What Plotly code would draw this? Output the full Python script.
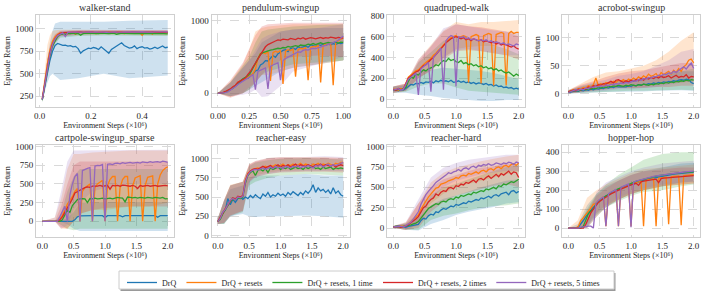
import numpy as np
import plotly.graph_objects as go

# ---------------- data ----------------
series_names = ["DrQ", "DrQ + resets", "DrQ + resets, 1 time",
                "DrQ + resets, 2 times", "DrQ + resets, 5 times"]
panel_titles = ["walker-stand", "pendulum-swingup", "quadruped-walk", "acrobot-swingup",
                "cartpole-swingup_sparse", "reacher-easy", "reacher-hard", "hopper-hop"]

walker_x = [round(0.01 * (i + 1), 2) for i in range(50)]
pend_x = [round(0.02 * i, 2) for i in range(51)]
long_x = [round(0.04 * i, 2) for i in range(51)]

# walker-stand
walker_drq = [210, 370, 520, 650, 750, 815, 838, 825, 815, 818,
              808, 812, 800, 805, 780, 728, 755, 770, 785, 780,
              792, 785, 770, 800, 775, 760, 728, 770, 790, 812,
              835, 845, 815, 800, 785, 790, 810, 780, 795, 800,
              785, 790, 775, 782, 795, 780, 800, 810, 790, 795]
walker_resets = [220, 430, 610, 760, 860, 910, 940, 955, 958, 925,
                 950, 960, 962, 940, 963, 965, 960, 966, 962, 965,
                 966, 945, 964, 966, 965, 950, 966, 967, 965, 966,
                 962, 966, 945, 965, 966, 960, 966, 965, 962, 928,
                 960, 965, 966, 940, 964, 965, 966, 962, 958, 955]
walker_1 = [205, 390, 560, 710, 810, 870, 915, 935, 945, 940,
            950, 948, 952, 945, 950, 930, 948, 952, 950, 947,
            953, 950, 948, 952, 949, 951, 946, 950, 953, 940,
            949, 952, 950, 948, 953, 950, 947, 951, 950, 948,
            952, 949, 950, 947, 951, 948, 950, 946, 948, 945]
walker_2 = [215, 400, 580, 730, 830, 890, 930, 950, 958, 960,
            962, 958, 963, 960, 962, 965, 961, 964, 962, 966,
            963, 960, 965, 962, 964, 961, 966, 963, 960, 964,
            962, 965, 961, 964, 962, 966, 963, 961, 965, 962,
            964, 961, 963, 965, 962, 964, 961, 963, 962, 960]
walker_5 = [210, 395, 570, 720, 825, 885, 925, 945, 955, 915,
            960, 963, 962, 965, 961, 964, 966, 963, 965, 962,
            966, 964, 963, 967, 965, 962, 966, 964, 967, 965,
            963, 966, 964, 967, 965, 966, 963, 967, 965, 966,
            964, 967, 965, 963, 966, 968, 965, 967, 966, 965]
walker_band_x = [0.01, 0.02, 0.03, 0.04, 0.05, 0.06, 0.08, 0.15, 0.25, 0.35, 0.5]
walker_drq_lo = [180, 300, 400, 470, 500, 480, 430, 450, 500, 450, 480]
walker_drq_hi = [240, 450, 650, 850, 980, 1060, 1080, 1080, 1080, 1090, 1100]
walker_resets_lo = [190, 330, 470, 620, 760, 850, 920, 930, 935, 935, 930]
walker_resets_hi = [250, 560, 820, 930, 975, 985, 990, 990, 990, 990, 985]
walker_1_lo = [180, 320, 480, 640, 760, 830, 900, 920, 925, 925, 920]
walker_1_hi = [230, 460, 650, 790, 870, 920, 965, 975, 975, 975, 970]
walker_2_lo = [190, 340, 500, 660, 780, 850, 920, 940, 945, 945, 940]
walker_2_hi = [240, 470, 670, 810, 890, 940, 975, 985, 985, 985, 985]
walker_5_lo = [185, 335, 490, 650, 770, 840, 910, 935, 945, 945, 945]
walker_5_hi = [235, 465, 660, 800, 880, 930, 975, 985, 985, 985, 985]

# pendulum-swingup
pend_drq = [0, 0, 5, 12, 25, 48, 68, 100, 125, 155,
            175, 210, 205, 250, 265, 310, 320, 390, 410, 450,
            445, 490, 520, 495, 545, 565, 590, 600, 575, 615,
            625, 605, 640, 630, 645, 650, 635, 665, 655, 645,
            670, 660, 675, 660, 680, 665, 685, 670, 690, 685,
            695]
pend_resets = [0, 0, 5, 15, 30, 45, 80, 105, 150, 165,
               190, 205, 225, 250, 270, 330, 480, 550, 560, 545,
               575, 170, 560, 580, 565, 590, 130, 580, 600, 590,
               610, 230, 600, 620, 610, 630, 180, 630, 645, 640,
               660, 150, 660, 680, 670, 690, 110, 700, 720, 745,
               765]
pend_1 = [0, 0, 5, 15, 30, 50, 70, 100, 140, 170,
          200, 215, 240, 280, 340, 420, 480, 540, 560, 575,
          580, 595, 600, 615, 620, 615, 630, 625, 645, 635,
          640, 655, 645, 665, 660, 660, 675, 670, 685, 670,
          685, 695, 680, 690, 700, 690, 695, 705, 690, 705,
          700]
pend_2 = [0, 2, 10, 25, 40, 60, 90, 110, 150, 170,
          195, 210, 260, 300, 360, 420, 470, 520, 590, 640,
          670, 690, 700, 720, 735, 730, 745, 740, 735, 755,
          745, 740, 760, 750, 765, 745, 755, 765, 760, 750,
          760, 770, 755, 765, 760, 772, 765, 758, 770, 765,
          760]
pend_5 = [0, 0, 5, 10, 20, 40, 60, 90, 120, 140,
          160, 180, 200, 230, 260, 50, 300, 320, 340, 350,
          60, 370, 390, 400, 420, 180, 450, 480, 500, 520,
          540, 550, 570, 565, 590, 600, 595, 610, 620, 615,
          630, 640, 650, 660, 670, 680, 700, 710, 730, 760,
          790]
pend_band_x = [0, 0.1, 0.2, 0.25, 0.3, 0.35, 0.4, 0.5, 0.6, 0.8, 1.0]
pend_drq_lo = [0, -40, 0, 50, 100, 150, 200, 300, 350, 400, 450]
pend_drq_hi = [0, 150, 350, 450, 550, 700, 750, 850, 880, 900, 900]
pend_resets_lo = [0, -50, 0, 50, 150, 250, 250, 300, 350, 400, 450]
pend_resets_hi = [0, 160, 400, 600, 850, 900, 920, 930, 950, 950, 950]
pend_1_lo = [0, -40, 0, 50, 150, 250, 300, 350, 400, 420, 450]
pend_1_hi = [0, 150, 380, 500, 700, 850, 880, 900, 920, 940, 950]
pend_2_lo = [0, -60, 0, 80, 150, 250, 350, 450, 500, 520, 500]
pend_2_hi = [0, 180, 420, 600, 800, 920, 950, 960, 970, 970, 970]
pend_5_lo = [0, -40, -20, 0, 50, -50, -40, 100, 300, 400, 500]
pend_5_hi = [0, 140, 350, 450, 600, 750, 800, 850, 880, 900, 950]

# quadruped-walk
quad_drq = [85, 90, 80, 95, 85, 100, 120, 140, 135, 150,
            145, 160, 150, 165, 160, 170, 155, 175, 165, 180,
            170, 175, 165, 180, 160, 165, 175, 160, 170, 155,
            165, 150, 160, 145, 155, 150, 140, 150, 135, 140,
            125, 135, 120, 125, 110, 115, 105, 110, 95, 105,
            95]
quad_resets = [90, 95, 85, 100, 90, 160, 210, 230, 250, 270,
               280, 310, 330, 350, 370, 390, 420, 440, 470, 490,
               520, 550, 570, 590, 600, 610, 590, 600, 610, 600,
               160, 600, 610, 620, 610, 150, 610, 620, 630, 620,
               130, 620, 630, 640, 630, 130, 630, 650, 630, 640,
               640]
quad_1 = [90, 85, 95, 85, 100, 110, 170, 210, 200, 240,
          230, 260, 280, 270, 290, 300, 310, 330, 320, 350,
          370, 360, 390, 370, 380, 360, 350, 370, 340, 350,
          330, 340, 320, 330, 310, 320, 300, 310, 290, 300,
          280, 290, 270, 280, 260, 250, 260, 240, 220, 240,
          225]
quad_2 = [95, 85, 100, 90, 95, 150, 200, 220, 240, 260,
          270, 300, 320, 330, 360, 380, 400, 430, 460, 480,
          510, 540, 560, 580, 590, 600, 590, 580, 590, 570,
          580, 560, 580, 570, 560, 570, 550, 560, 550, 540,
          550, 530, 540, 520, 530, 520, 510, 500, 510, 490,
          480]
quad_5 = [85, 90, 100, 85, 95, 140, 190, 210, 230, 250,
          40, 290, 310, 330, 350, 70, 400, 430, 460, 490,
          90, 560, 590, 610, 600, 120, 600, 590, 600, 580,
          590, 570, 580, 570, 560, 570, 560, 570, 550, 560,
          540, 550, 540, 530, 540, 520, 530, 520, 510, 530,
          520]
quad_band_x = [0, 0.2, 0.4, 0.6, 0.8, 1.0, 1.2, 1.4, 1.6, 1.8, 2.0]
quad_drq_lo = [60, 60, 40, 30, 10, 0, -10, -20, -20, -10, -10]
quad_drq_hi = [120, 130, 260, 280, 300, 290, 280, 270, 250, 220, 190]
quad_resets_lo = [60, 80, 200, 280, 400, 480, 500, 510, 510, 520, 520]
quad_resets_hi = [120, 150, 380, 520, 660, 740, 720, 740, 740, 750, 760]
quad_1_lo = [60, 70, 120, 150, 150, 110, 80, 70, 60, 50, 40]
quad_1_hi = [120, 140, 350, 450, 560, 590, 580, 560, 520, 480, 430]
quad_2_lo = [60, 80, 200, 270, 380, 460, 470, 460, 440, 420, 380]
quad_2_hi = [120, 150, 360, 500, 650, 720, 700, 690, 670, 650, 600]
quad_5_lo = [60, 80, 200, 280, 400, 470, 480, 460, 440, 420, 420]
quad_5_hi = [120, 150, 380, 510, 680, 720, 700, 680, 660, 650, 640]

# acrobot-swingup
acro_drq = [2, 3, 4, 5, 4, 6, 5, 7, 6, 8,
            7, 9, 8, 10, 9, 11, 10, 12, 11, 13,
            12, 12, 13, 12, 14, 13, 15, 14, 16, 15,
            17, 16, 18, 17, 19, 18, 20, 19, 21, 20,
            22, 21, 23, 22, 24, 25, 24, 26, 25, 20,
            18]
acro_resets = [3, 5, 7, 6, 9, 8, 11, 10, 14, 12,
               16, 28, 14, 18, 15, 20, 19, 17, 22, 20,
               24, 22, 25, 21, 26, 24, 28, 25, 30, 27,
               32, 29, 35, 31, 33, 36, 30, 38, 34, 37,
               40, 35, 42, 38, 45, 40, 48, 52, 60, 62,
               55]
acro_1 = [3, 4, 5, 6, 5, 7, 8, 7, 9, 8,
          10, 9, 11, 10, 12, 11, 13, 12, 14, 13,
          15, 14, 13, 15, 14, 16, 15, 14, 16, 15,
          17, 16, 15, 17, 16, 18, 17, 19, 18, 20,
          19, 21, 20, 22, 21, 23, 22, 24, 23, 25,
          24]
acro_2 = [3, 4, 6, 5, 8, 7, 9, 8, 12, 10,
          14, 13, 16, 15, 18, 17, 20, 22, 19, 24,
          25, 22, 20, 23, 21, 24, 22, 25, 23, 27,
          24, 28, 26, 29, 27, 30, 28, 31, 29, 30,
          32, 28, 30, 33, 29, 31, 30, 34, 28, 31,
          30]
acro_5 = [2, 4, 5, 7, 6, 8, 7, 10, 9, 12,
          11, 13, 12, 14, 13, 15, 14, 17, 16, 18,
          17, 19, 18, 20, 19, 21, 23, 22, 25, 24,
          27, 26, 29, 28, 31, 30, 33, 32, 35, 34,
          37, 36, 40, 38, 42, 45, 48, 44, 50, 55,
          45]
acro_band_x = [0, 0.2, 0.4, 0.6, 0.8, 1.0, 1.2, 1.4, 1.6, 1.8, 2.0]
acro_drq_lo = [0, 1, 2, 3, 3, 4, 4, 5, 6, 6, 5]
acro_drq_hi = [5, 12, 16, 20, 22, 24, 28, 32, 36, 40, 40]
acro_resets_lo = [0, 3, 5, 8, 10, 10, 12, 15, 18, 20, 22]
acro_resets_hi = [6, 18, 30, 38, 40, 45, 50, 60, 75, 95, 110]
acro_1_lo = [0, 2, 3, 4, 4, 5, 5, 5, 6, 7, 6]
acro_1_hi = [6, 13, 18, 20, 24, 26, 28, 30, 38, 40, 45]
acro_2_lo = [0, 3, 5, 8, 10, 10, 10, 12, 12, 14, 14]
acro_2_hi = [6, 16, 22, 30, 36, 40, 42, 46, 50, 55, 55]
acro_5_lo = [0, 2, 4, 5, 8, 8, 10, 12, 16, 20, 22]
acro_5_hi = [6, 14, 20, 25, 32, 35, 40, 50, 60, 75, 80]

# cartpole-swingup_sparse
cart_drq = [0, 0, 0, 0, 0, 0, 0, 0, 0, 0,
            0, 0, 0, 20, 60, 72, 75, 74, 76, 75,
            77, 75, 74, 76, 75, 50, 76, 75, 77, 76,
            74, 75, 60, 76, 75, 77, 75, 76, 74, 75,
            76, 75, 77, 74, 75, 76, 55, 75, 76, 75,
            75]
cart_resets = [0, 0, 0, 0, 0, 0, 0, 30, 80, 150,
               230, 280, 330, 400, 440, 0, 400, 450, 480, 500,
               0, 450, 500, 520, 550, 0, 480, 560, 600, 600,
               0, 450, 560, 600, 600, 0, 470, 580, 600, 610,
               0, 480, 590, 600, 610, 0, 500, 620, 680, 710,
               730]
cart_1 = [0, 0, 0, 0, 0, 0, 0, 0, 20, 80,
          150, 120, 210, 250, 290, 300, 305, 300, 250, 305,
          300, 310, 300, 305, 310, 300, 305, 310, 300, 315,
          320, 315, 310, 260, 325, 320, 315, 320, 310, 320,
          315, 310, 320, 315, 310, 320, 315, 310, 320, 300,
          305]
cart_2 = [0, 0, 0, 0, 0, 0, 0, 20, 60, 120,
          180, 230, 300, 380, 400, 420, 440, 450, 460, 455,
          470, 465, 470, 480, 470, 475, 480, 430, 480, 475,
          480, 470, 485, 480, 475, 470, 480, 470, 440, 480,
          470, 475, 480, 470, 475, 480, 470, 475, 470, 480,
          475]
cart_5 = [0, 0, 0, 0, 0, 0, 0, 60, 120, 200,
          0, 350, 500, 600, 640, 0, 680, 700, 710, 720,
          0, 740, 750, 745, 760, 0, 765, 770, 760, 775,
          780, 770, 785, 775, 780, 790, 780, 785, 790, 780,
          795, 790, 785, 800, 790, 795, 800, 790, 805, 800,
          790]
cart_band_x = [0, 0.2, 0.3, 0.4, 0.5, 0.6, 0.8, 1.0, 1.4, 1.7, 2.0]
cart_drq_lo = [0, 0, -10, -40, -100, -130, -130, -130, -130, -130, -130]
cart_drq_hi = [0, 0, 10, 40, 120, 250, 260, 260, 260, 260, 260]
cart_resets_lo = [0, 0, -100, -100, 0, 100, 150, 150, 200, 200, 250]
cart_resets_hi = [0, 50, 300, 700, 900, 900, 920, 930, 950, 950, 950]
cart_1_lo = [0, 0, -50, -100, -120, -100, -100, -100, -100, -100, -100]
cart_1_hi = [0, 0, 100, 400, 600, 700, 700, 700, 700, 700, 700]
cart_2_lo = [0, 0, -80, -100, 0, 100, 150, 180, 200, 200, 200]
cart_2_hi = [0, 0, 200, 500, 750, 800, 800, 800, 800, 800, 800]
cart_5_lo = [0, 0, -100, -50, 150, 250, 400, 450, 500, 500, 500]
cart_5_hi = [0, 50, 400, 800, 950, 950, 960, 960, 960, 960, 960]

# reacher-easy
re_drq = [180, 230, 300, 330, 480, 400, 470, 430, 480, 500,
          470, 500, 480, 520, 490, 530, 500, 480, 540, 510,
          560, 500, 530, 510, 550, 520, 540, 510, 560, 530,
          570, 540, 520, 560, 530, 580, 550, 590, 660, 560,
          620, 580, 600, 560, 590, 540, 620, 550, 580, 530,
          510]
re_resets = [180, 220, 290, 340, 400, 450, 480, 470, 500, 490,
             520, 720, 810, 840, 860, 870, 880, 860, 890, 900,
             880, 910, 900, 920, 900, 910, 930, 900, 920, 910,
             930, 900, 920, 940, 910, 930, 920, 900, 930, 920,
             940, 910, 930, 920, 940, 930, 910, 940, 930, 950,
             950]
re_1 = [180, 210, 280, 330, 390, 440, 470, 460, 490, 480,
        500, 680, 780, 820, 840, 780, 850, 860, 840, 870,
        820, 880, 860, 870, 890, 860, 880, 870, 890, 860,
        880, 890, 870, 880, 860, 890, 870, 880, 900, 870,
        880, 860, 890, 870, 880, 890, 860, 880, 870, 880,
        870]
re_2 = [180, 230, 290, 350, 410, 450, 490, 470, 510, 500,
        520, 710, 800, 840, 860, 870, 860, 880, 900, 880,
        890, 910, 880, 900, 920, 890, 910, 900, 920, 890,
        910, 930, 900, 920, 910, 900, 920, 910, 890, 920,
        910, 930, 900, 920, 910, 900, 920, 890, 910, 920,
        910]
re_5 = [180, 220, 300, 340, 400, 460, 480, 460, 500, 490,
        510, 700, 790, 830, 850, 860, 850, 870, 880, 860,
        880, 890, 870, 900, 880, 890, 870, 900, 890, 880,
        900, 890, 910, 880, 900, 890, 910, 900, 880, 910,
        900, 920, 890, 910, 930, 900, 920, 910, 930, 940,
        950]
re_band_x = [0, 0.1, 0.2, 0.4, 0.5, 0.6, 0.8, 1.0, 1.4, 1.7, 2.0]
re_drq_lo = [150, 150, 250, 280, 250, 240, 250, 250, 260, 250, 230]
re_drq_hi = [220, 450, 600, 650, 750, 780, 780, 780, 800, 780, 780]
re_resets_lo = [150, 160, 260, 320, 700, 780, 820, 840, 850, 850, 850]
re_resets_hi = [220, 460, 660, 700, 930, 970, 1010, 1020, 1020, 1020, 1010]
re_1_lo = [150, 150, 250, 300, 650, 700, 750, 780, 800, 790, 780]
re_1_hi = [220, 450, 650, 700, 900, 950, 980, 1000, 1010, 1000, 990]
re_2_lo = [150, 160, 260, 320, 700, 760, 800, 820, 830, 830, 820]
re_2_hi = [220, 460, 650, 700, 920, 960, 1000, 1010, 1010, 1010, 1000]
re_5_lo = [150, 160, 250, 310, 680, 760, 800, 830, 840, 840, 840]
re_5_hi = [220, 450, 650, 700, 920, 970, 1010, 1020, 1020, 1030, 1020]

# reacher-hard
rh_drq = [10, 15, 10, 20, 15, 10, 20, 25, 30, 40,
          45, 90, 120, 110, 150, 170, 160, 200, 190, 220,
          240, 230, 250, 270, 260, 290, 280, 300, 310, 300,
          330, 320, 340, 350, 340, 370, 360, 380, 390, 370,
          400, 410, 390, 420, 430, 440, 410, 450, 460, 430,
          450]
rh_resets = [10, 20, 15, 25, 20, 30, 50, 80, 110, 140,
             160, 230, 290, 330, 380, 420, 450, 490, 500, 540,
             550, 560, 580, 590, 600, 620, 610, 640, 650, 640,
             670, 660, 680, 690, 670, 700, 710, 690, 720, 730,
             710, 740, 750, 730, 760, 770, 750, 780, 790, 770,
             800]
rh_1 = [15, 20, 30, 15, 20, 25, 30, 40, 50, 60,
        80, 120, 170, 200, 240, 260, 280, 300, 290, 320,
        330, 320, 350, 360, 350, 380, 370, 400, 390, 410,
        420, 410, 440, 430, 450, 460, 450, 480, 470, 490,
        500, 480, 520, 510, 540, 530, 550, 570, 560, 580,
        600]
rh_2 = [10, 15, 20, 10, 15, 25, 40, 60, 80, 110,
        140, 200, 250, 270, 320, 350, 370, 420, 400, 440,
        460, 450, 490, 500, 480, 520, 510, 540, 530, 560,
        550, 570, 590, 560, 600, 610, 590, 620, 640, 610,
        640, 660, 630, 670, 650, 680, 700, 660, 690, 680,
        620]
rh_5 = [10, 15, 25, 20, 15, 30, 50, 70, 110, 150,
        200, 290, 360, 410, 450, 480, 520, 560, 580, 600,
        620, 650, 680, 670, 690, 700, 720, 700, 730, 740,
        720, 750, 760, 740, 770, 760, 780, 770, 790, 770,
        780, 800, 790, 780, 800, 790, 810, 800, 780, 810,
        800]
rh_band_x = [0, 0.2, 0.4, 0.6, 0.8, 1.0, 1.2, 1.4, 1.6, 1.8, 2.0]
rh_drq_lo = [0, -20, -30, 50, 100, 160, 200, 230, 260, 300, 320]
rh_drq_hi = [25, 50, 120, 280, 360, 400, 450, 500, 540, 580, 600]
rh_resets_lo = [0, -20, 30, 300, 420, 500, 540, 580, 620, 660, 700]
rh_resets_hi = [25, 70, 300, 560, 680, 740, 780, 820, 850, 880, 900]
rh_1_lo = [0, -20, -20, 100, 150, 180, 220, 250, 270, 280, 300]
rh_1_hi = [25, 60, 180, 400, 500, 540, 600, 650, 700, 750, 780]
rh_2_lo = [0, -20, 0, 200, 320, 400, 440, 480, 520, 540, 500]
rh_2_hi = [25, 60, 300, 500, 600, 650, 700, 740, 760, 800, 760]
rh_5_lo = [0, -20, 50, 350, 500, 580, 620, 660, 680, 700, 700]
rh_5_hi = [25, 70, 350, 620, 740, 800, 840, 860, 880, 900, 900]

# hopper-hop
hop_drq = [0, 0, 0, 0, 5, 20, 40, 60, 80, 95,
           110, 120, 140, 150, 160, 170, 175, 185, 190, 200,
           205, 210, 215, 220, 225, 230, 235, 240, 245, 248,
           252, 255, 258, 262, 265, 268, 270, 272, 275, 277,
           280, 282, 284, 286, 287, 288, 290, 291, 292, 293,
           295]
hop_resets = [0, 0, 0, 0, 10, 40, 55, 70, 90, 105,
              125, 130, 145, 150, 165, 10, 175, 185, 190, 200,
              10, 210, 215, 220, 225, 10, 235, 240, 245, 248,
              10, 252, 255, 258, 260, 10, 262, 265, 267, 268,
              20, 270, 272, 273, 275, 15, 276, 278, 279, 280,
              282]
hop_1 = [0, 0, 0, 0, 0, 0, 10, 40, 75, 90,
         100, 125, 140, 150, 160, 170, 180, 188, 195, 202,
         208, 214, 220, 225, 230, 235, 240, 246, 250, 254,
         258, 262, 265, 268, 271, 274, 276, 278, 280, 283,
         285, 287, 289, 290, 291, 292, 293, 294, 295, 296,
         297]
hop_2 = [0, 0, 0, 0, 0, 0, 0, 20, 50, 80,
         100, 120, 135, 145, 155, 165, 172, 180, 188, 195,
         200, 205, 212, 218, 222, 228, 232, 236, 225, 244,
         247, 250, 252, 254, 256, 258, 240, 261, 263, 264,
         266, 267, 268, 270, 271, 272, 273, 274, 275, 276,
         277]
hop_5 = [0, 0, 0, 0, 0, 5, 5, 8, 10, 10,
         0, 130, 145, 155, 165, 10, 180, 190, 195, 205,
         10, 215, 220, 225, 232, 5, 242, 248, 252, 256,
         260, 263, 266, 270, 272, 275, 277, 280, 282, 284,
         286, 288, 290, 292, 293, 295, 296, 297, 298, 299,
         300]
hop_band_x = [0, 0.15, 0.3, 0.45, 0.6, 0.8, 1.0, 1.2, 1.5, 1.8, 2.0]
hop_drq_lo = [0, 0, 10, 70, 110, 150, 180, 200, 220, 240, 245]
hop_drq_hi = [0, 20, 120, 180, 220, 250, 280, 300, 320, 340, 345]
hop_resets_lo = [0, 0, 20, 80, 120, 150, 180, 200, 220, 230, 235]
hop_resets_hi = [0, 40, 160, 200, 230, 260, 290, 310, 320, 330, 335]
hop_1_lo = [0, 0, 0, 60, 110, 140, 170, 190, 200, 220, 230]
hop_1_hi = [0, 5, 100, 180, 230, 280, 320, 360, 390, 400, 400]
hop_2_lo = [0, 0, 0, 60, 110, 150, 180, 200, 220, 230, 235]
hop_2_hi = [0, 5, 90, 170, 210, 250, 280, 300, 310, 320, 320]
hop_5_lo = [0, 0, 0, 80, 120, 160, 190, 210, 230, 240, 245]
hop_5_hi = [0, 5, 30, 190, 240, 270, 300, 320, 340, 350, 355]

# axis ticks
walker_xticks = [0.0, 0.2, 0.4]
pend_xticks = [0.0, 0.25, 0.5, 0.75, 1.0]
long_xticks = [0.0, 0.5, 1.0, 1.5, 2.0]
walker_yticks = [250, 500, 750, 1000]
pend_yticks = [0, 500, 1000]
quad_yticks = [0, 200, 400, 600, 800]
acro_yticks = [0, 50, 100]
k_yticks = [0, 250, 500, 750, 1000]
hop_yticks = [0, 100, 200, 300, 400]

x_label = 'Environment Steps (×10⁶)'
y_label = 'Episode Return'

# ---------------- figure ----------------
W, H = 706, 292
colors = ['#1f77b4', '#ff7f0e', '#2ca02c', '#d62728', '#9467bd']
fills = ['rgba(31,119,180,0.22)', 'rgba(255,127,14,0.2)', 'rgba(44,160,44,0.2)',
         'rgba(214,39,40,0.2)', 'rgba(148,103,189,0.2)']
FONT = "Liberation Serif, Times New Roman, serif"
TXT = '#262626'

panels = [
    dict(x=walker_x, ys=[walker_drq, walker_resets, walker_1, walker_2, walker_5],
         bx=walker_band_x,
         lo=[walker_drq_lo, walker_resets_lo, walker_1_lo, walker_2_lo, walker_5_lo],
         hi=[walker_drq_hi, walker_resets_hi, walker_1_hi, walker_2_hi, walker_5_hi],
         xr=[-0.0145, 0.5245], yr=[128, 1155], xt=walker_xticks, xf='.1f', yt=walker_yticks),
    dict(x=pend_x, ys=[pend_drq, pend_resets, pend_1, pend_2, pend_5],
         bx=pend_band_x,
         lo=[pend_drq_lo, pend_resets_lo, pend_1_lo, pend_2_lo, pend_5_lo],
         hi=[pend_drq_hi, pend_resets_hi, pend_1_hi, pend_2_hi, pend_5_hi],
         xr=[-0.05, 1.05], yr=[-189, 1078], xt=pend_xticks, xf='.2f', yt=pend_yticks),
    dict(x=long_x, ys=[quad_drq, quad_resets, quad_1, quad_2, quad_5],
         bx=quad_band_x,
         lo=[quad_drq_lo, quad_resets_lo, quad_1_lo, quad_2_lo, quad_5_lo],
         hi=[quad_drq_hi, quad_resets_hi, quad_1_hi, quad_2_hi, quad_5_hi],
         xr=[-0.1, 2.1], yr=[-77, 808], xt=long_xticks, xf='.1f', yt=quad_yticks),
    dict(x=long_x, ys=[acro_drq, acro_resets, acro_1, acro_2, acro_5],
         bx=acro_band_x,
         lo=[acro_drq_lo, acro_resets_lo, acro_1_lo, acro_2_lo, acro_5_lo],
         hi=[acro_drq_hi, acro_resets_hi, acro_1_hi, acro_2_hi, acro_5_hi],
         xr=[-0.1, 2.1], yr=[-24, 141], xt=long_xticks, xf='.1f', yt=acro_yticks),
    dict(x=long_x, ys=[cart_drq, cart_resets, cart_1, cart_2, cart_5],
         bx=cart_band_x,
         lo=[cart_drq_lo, cart_resets_lo, cart_1_lo, cart_2_lo, cart_5_lo],
         hi=[cart_drq_hi, cart_resets_hi, cart_1_hi, cart_2_hi, cart_5_hi],
         xr=[-0.1, 2.1], yr=[-210, 1022], xt=long_xticks, xf='.1f', yt=k_yticks),
    dict(x=long_x, ys=[re_drq, re_resets, re_1, re_2, re_5],
         bx=re_band_x,
         lo=[re_drq_lo, re_resets_lo, re_1_lo, re_2_lo, re_5_lo],
         hi=[re_drq_hi, re_resets_hi, re_1_hi, re_2_hi, re_5_hi],
         xr=[-0.1, 2.1], yr=[-21, 1178], xt=long_xticks, xf='.1f', yt=k_yticks),
    dict(x=long_x, ys=[rh_drq, rh_resets, rh_1, rh_2, rh_5],
         bx=rh_band_x,
         lo=[rh_drq_lo, rh_resets_lo, rh_1_lo, rh_2_lo, rh_5_lo],
         hi=[rh_drq_hi, rh_resets_hi, rh_1_hi, rh_2_hi, rh_5_hi],
         xr=[-0.1, 2.1], yr=[-110, 1020], xt=long_xticks, xf='.1f', yt=k_yticks),
    dict(x=long_x, ys=[hop_drq, hop_resets, hop_1, hop_2, hop_5],
         bx=hop_band_x,
         lo=[hop_drq_lo, hop_resets_lo, hop_1_lo, hop_2_lo, hop_5_lo],
         hi=[hop_drq_hi, hop_resets_hi, hop_1_hi, hop_2_hi, hop_5_hi],
         xr=[-0.1, 2.1], yr=[-47, 438], xt=long_xticks, xf='.1f', yt=hop_yticks),
]

col_left = [36, 211.5, 387, 562]
pw = 138
row_top = [15, 145]
ph = 92

# legend frame (pixels)
leg_left, leg_right, leg_top, leg_bot = 119, 614, 271, 289

fig = go.Figure()
layout = dict(
    width=W, height=H, margin=dict(l=0, r=0, t=0, b=0, autoexpand=False),
    paper_bgcolor='white', plot_bgcolor='white',
    font=dict(family=FONT, size=9, color=TXT),
    showlegend=True,
    legend=dict(orientation='h', x=(leg_left + 3) / W, xanchor='left',
                y=1 - (leg_top - 3) / H, yanchor='top',
                borderwidth=0, bgcolor='rgba(0,0,0,0)',
                font=dict(family=FONT, size=8, color=TXT), itemwidth=30,
                tracegroupgap=0),
    shapes=[
        dict(type='rect', xref='paper', yref='paper', layer='above',
             x0=(leg_left + 1.5) / W, x1=(leg_right + 1.5) / W,
             y0=1 - (leg_bot + 2) / H, y1=1 - (leg_top + 2) / H,
             fillcolor='#9a9a9a', line=dict(width=0)),
        dict(type='rect', xref='paper', yref='paper', layer='above',
             x0=leg_left / W, x1=leg_right / W, y0=1 - leg_bot / H, y1=1 - leg_top / H,
             fillcolor='white', line=dict(color='#cccccc', width=1)),
    ],
)
annotations = []

for k, p in enumerate(panels):
    idx = k + 1
    r, c = divmod(k, 4)
    x0 = col_left[c]
    y0 = row_top[r]
    xd = [x0 / W, (x0 + pw) / W]
    yd = [1 - (y0 + ph) / H, 1 - y0 / H]
    xa = 'x' if idx == 1 else f'x{idx}'
    ya = 'y' if idx == 1 else f'y{idx}'
    axis_common = dict(showgrid=True, gridcolor='#d9d9d9', griddash='dash', gridwidth=0.8,
                       showline=True, mirror=True, linecolor='#cfcfcf', linewidth=1,
                       zeroline=False, ticks='', automargin=False,
                       tickfont=dict(family=FONT, size=9, color=TXT))
    layout['xaxis' if idx == 1 else f'xaxis{idx}'] = dict(
        domain=xd, anchor=ya, range=p['xr'], tickvals=p['xt'], tickformat=p['xf'],
        title=dict(text=x_label, font=dict(family=FONT, size=8, color=TXT), standoff=2),
        **axis_common)
    layout['yaxis' if idx == 1 else f'yaxis{idx}'] = dict(
        domain=yd, anchor=xa, range=p['yr'], tickvals=p['yt'],
        title=dict(text=y_label, font=dict(family=FONT, size=8, color=TXT), standoff=3),
        **axis_common)

    for s in range(5):
        bx = p['bx']
        fig.add_trace(go.Scatter(
            x=list(bx) + list(bx)[::-1], y=list(p['hi'][s]) + list(p['lo'][s])[::-1],
            fill='toself', fillcolor=fills[s], line=dict(width=0), mode='lines',
            hoverinfo='skip', showlegend=False, xaxis=xa, yaxis=ya))
    for s in range(5):
        fig.add_trace(go.Scatter(
            x=p['x'], y=p['ys'][s], mode='lines', line=dict(color=colors[s], width=1.3),
            name=series_names[s], legendgroup=series_names[s], showlegend=(k == 0),
            xaxis=xa, yaxis=ya))

    cx = (x0 + pw / 2) / W
    annotations.append(dict(text=panel_titles[k], x=cx, y=1 - (y0 - 7.5) / H, xref='paper', yref='paper',
                            showarrow=False, xanchor='center', yanchor='middle',
                            font=dict(family=FONT, size=10, color='#333333')))

layout['annotations'] = annotations
fig.update_layout(**layout)
fig.write_html("out.html", config={'displayModeBar': False},
               post_script="document.body.style.margin='0';document.body.style.padding='0';")
